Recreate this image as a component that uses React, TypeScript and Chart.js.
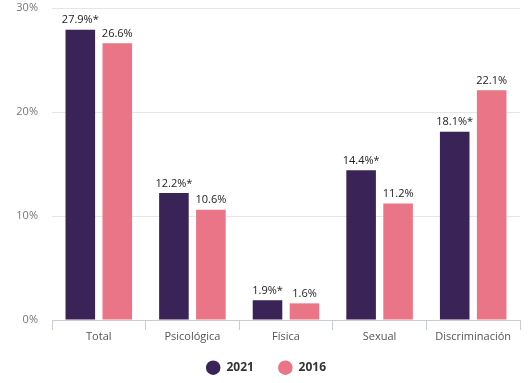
import React, { useEffect, useRef } from "react";
import { Chart, registerables } from "chart.js";

Chart.register(...registerables);

const categories = ["Total", "Psicológica", "Física", "Sexual", "Discriminación"];
const series2021 = [27.9, 12.2, 1.9, 14.4, 18.1];
const series2016 = [26.6, 10.6, 1.6, 11.2, 22.1];
const labels2021 = ["27.9%*", "12.2%*", "1.9%*", "14.4%*", "18.1%*"];
const labels2016 = ["26.6%", "10.6%", "1.6%", "11.2%", "22.1%"];
const yTicks = [0, 10, 20, 30];

const FONT = "'Open Sans', sans-serif";

const valueLabels = {
  id: "valueLabels",
  afterLayout(chart: any) {
    // let x-axis labels extend below the (short) axis box without being clipped
    const x = chart.scales.x;
    if (x) x.bottom = x.top + 32;
    // nudge the centred legend slightly to the right
    if (chart.legend) chart.legend.left += 12;
  },
  afterDatasetsDraw(chart: any) {
    const ctx = chart.ctx;
    ctx.save();
    ctx.font = `11px ${FONT}`;
    ctx.fillStyle = "#222";
    ctx.textAlign = "center";
    ctx.textBaseline = "bottom";
    const all = [labels2021, labels2016];
    chart.data.datasets.forEach((_: any, di: number) => {
      const meta = chart.getDatasetMeta(di);
      meta.data.forEach((bar: any, i: number) => {
        ctx.fillText(all[di][i], bar.x, bar.y - 4);
      });
    });
    ctx.restore();
  },
};

export default function App() {
  const ref = useRef<HTMLCanvasElement | null>(null);
  useEffect(() => {
    const chart = new Chart(ref.current!, {
      type: "bar",
      data: {
        labels: categories,
        datasets: [
          { label: "2021", data: series2021, backgroundColor: "#3a2356", borderWidth: 0 },
          { label: "2016", data: series2016, backgroundColor: "#e97586", borderWidth: 0 },
        ],
      },
      plugins: [valueLabels],
      options: {
        animation: false,
        responsive: false,
        maintainAspectRatio: false,
        layout: { padding: { top: 8, right: 10, left: 0, bottom: -0.7 } },
        datasets: { bar: { categoryPercentage: 0.79, barPercentage: 0.8 } } as any,
        plugins: {
          legend: {
            position: "bottom",
            labels: {
              usePointStyle: true,
              pointStyle: "circle",
              pointStyleWidth: 14.5,
              boxWidth: 14.5,
              boxHeight: 10.25,
              padding: 24.2,
              color: "#333",
              font: { family: FONT, size: 12, weight: "bold" },
            },
          },
          tooltip: { enabled: false },
        },
        scales: {
          x: {
            grid: { display: true, drawOnChartArea: false, offset: true, tickLength: 10, color: "#c8ccd6" },
            border: { display: true, color: "#c8ccd6" },
            ticks: { color: "#555", font: { family: FONT, size: 11 }, padding: 0 },
            afterFit: (s: any) => { s.height = 17.5; },
          },
          y: {
            min: 0,
            max: 30,
            afterBuildTicks: (s: any) => { s.ticks = yTicks.map((v) => ({ value: v })); },
            grid: { color: "#e6e6e6", drawTicks: false },
            border: { display: false },
            ticks: {
              color: "#777",
              font: { family: FONT, size: 11 },
              padding: 14,
              callback: (v: any) => `${v}%`,
            },
            afterFit: (s: any) => { s.width = 52; s.paddingTop = 0; s.paddingBottom = 0; },
          },
        },
      },
    });
    return () => chart.destroy();
  }, []);
  return (
    <div style={{ position: "fixed", left: 0, top: 0, width: 530, height: 383, background: "#fff" }}>
      <canvas ref={ref} width={530} height={383} style={{ width: 530, height: 383 }} />
    </div>
  );
}
